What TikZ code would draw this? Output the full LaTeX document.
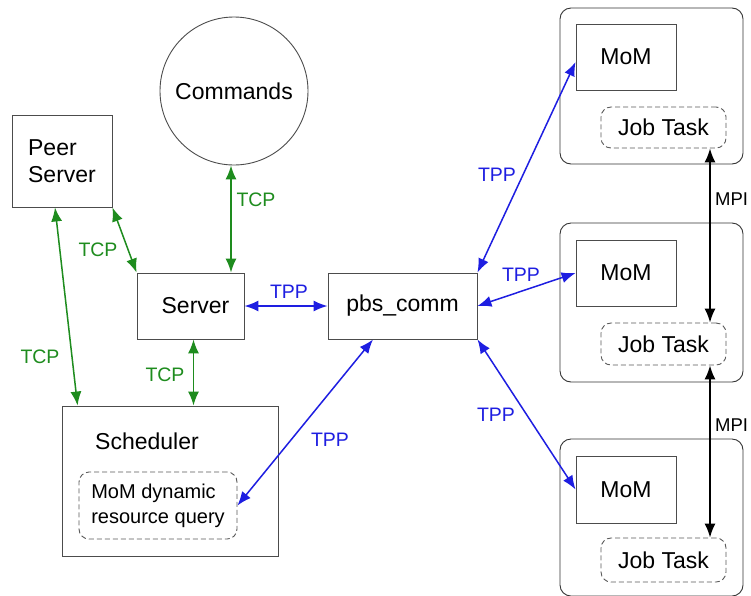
\documentclass[tikz,border=0pt]{standalone}
\usepackage{fontspec}
\setmainfont{Liberation Sans}
\usetikzlibrary{arrows.meta}
\definecolor{tcpgreen}{RGB}{30,140,30}
\definecolor{tppblue}{RGB}{30,30,225}
\begin{document}
\begin{tikzpicture}[x=1pt,y=-1pt,
  box/.style={draw=black!70, line width=0.9pt, inner sep=0pt, font=\fontsize{23}{27}\selectfont},
  dbox/.style={box, draw=black!65, dashed, dash pattern=on 5pt off 3pt, rounded corners=10pt},
  outer/.style={draw=black!80, line width=0.9pt, rounded corners=11pt, inner sep=0pt},
  tcp/.style={draw=tcpgreen, line width=1.5pt, {Latex[length=14pt,width=11pt]}-{Latex[length=14pt,width=11pt]}},
  tpp/.style={draw=tppblue, line width=1.5pt, {Latex[length=14pt,width=11pt]}-{Latex[length=14pt,width=11pt]}},
  mpi/.style={draw=black, line width=1.5pt, {Latex[length=14pt,width=11pt]}-{Latex[length=14pt,width=11pt]}},
  lab/.style={inner sep=0pt, font=\fontsize{19.5}{23}\selectfont},
]
\useasboundingbox (0,0) rectangle (751,595);
\fill[white] (0,0) rectangle (751,595);

% nodes
\node[box, circle, minimum size=148pt] (cmd) at (234,91) {Commands};
\node[box, minimum width=100pt, minimum height=92pt, align=left] (peer) at (62,161) {Peer\\Server};
\node[box, minimum width=107pt, minimum height=66pt] (server) at (190.5,306) {\hspace*{10pt}Server};
\node[box, minimum width=216pt, minimum height=150pt] (sched) at (170,481) {};
\node[inner sep=0pt, font=\fontsize{23}{27}\selectfont] (schedlab) at (147,441) {Scheduler};
\node[dbox, minimum width=158pt, minimum height=67pt, align=left, font=\fontsize{20}{25}\selectfont] (dyn) at (158,505.5) {MoM dynamic\\resource query};
\node[box, minimum width=149pt, minimum height=66pt] (pbs) at (402.5,306) {pbs\_comm};

\node[outer, minimum width=183pt, minimum height=156pt] (host1) at (651.5,86) {};
\node[box, minimum width=100pt, minimum height=66pt] (mom1) at (626,57) {MoM};
\node[dbox, minimum width=125pt, minimum height=41pt] (job1) at (663.5,127.5) {Job Task};

\node[outer, minimum width=183pt, minimum height=159pt] (host2) at (651.5,302.5) {};
\node[box, minimum width=100pt, minimum height=66pt] (mom2) at (626,273) {MoM};
\node[dbox, minimum width=125pt, minimum height=42pt] (job2) at (663.5,344) {Job Task};

\node[outer, minimum width=183pt, minimum height=157pt] (host3) at (651.5,517.5) {};
\node[box, minimum width=100pt, minimum height=67pt] (mom3) at (626,489.5) {MoM};
\node[dbox, minimum width=125pt, minimum height=44pt] (job3) at (663.5,560) {Job Task};

% TCP connectors
\draw[tcp] ([xshift=-3pt]cmd.south) -- ([xshift=-3pt]server.north -| cmd.south);
\draw[tcp] (peer.south east) -- (server.north west);
\draw[tcp] ([xshift=-7pt]peer.south) -- ([xshift=16pt]sched.north west);
\draw[tcp] ([xshift=3pt]server.south) -- ([xshift=3pt]server.south |- sched.north);

% TPP connectors
\draw[tpp] (server.east) -- (pbs.west);
\draw[tpp] ([xshift=-29.5pt]pbs.south) -- (dyn.east);
\draw[tpp] (pbs.north east) -- ([yshift=-5pt]mom1.west);
\draw[tpp] (pbs.east) -- (mom2.west);
\draw[tpp] (pbs.south east) -- (mom3.west);

% MPI connectors
\draw[mpi] ([xshift=46.5pt]job1.south) -- ([xshift=46.5pt]job2.north);
\draw[mpi] ([xshift=46.5pt]job2.south) -- ([xshift=46.5pt]job3.north);

% labels
\node[lab, text=tcpgreen] (l1) at (256,200) {TCP};
\node[lab, text=tcpgreen] (l2) at (98,250) {TCP};
\node[lab, text=tcpgreen] (l3) at (40,357) {TCP};
\node[lab, text=tcpgreen] (l4) at (165,375) {TCP};
\node[lab, text=tppblue] (l5) at (289,292) {TPP};
\node[lab, text=tppblue] (l6) at (330,440) {TPP};
\node[lab, text=tppblue] (l7) at (497,175) {TPP};
\node[lab, text=tppblue] (l8) at (521,275) {TPP};
\node[lab, text=tppblue] (l9) at (496,415) {TPP};
\node[lab, anchor=west, font=\fontsize{18.5}{22}\selectfont] (m1) at (715,199) {MPI};
\node[lab, anchor=west, font=\fontsize{18.5}{22}\selectfont] (m2) at (715,425) {MPI};
\end{tikzpicture}
\end{document}
